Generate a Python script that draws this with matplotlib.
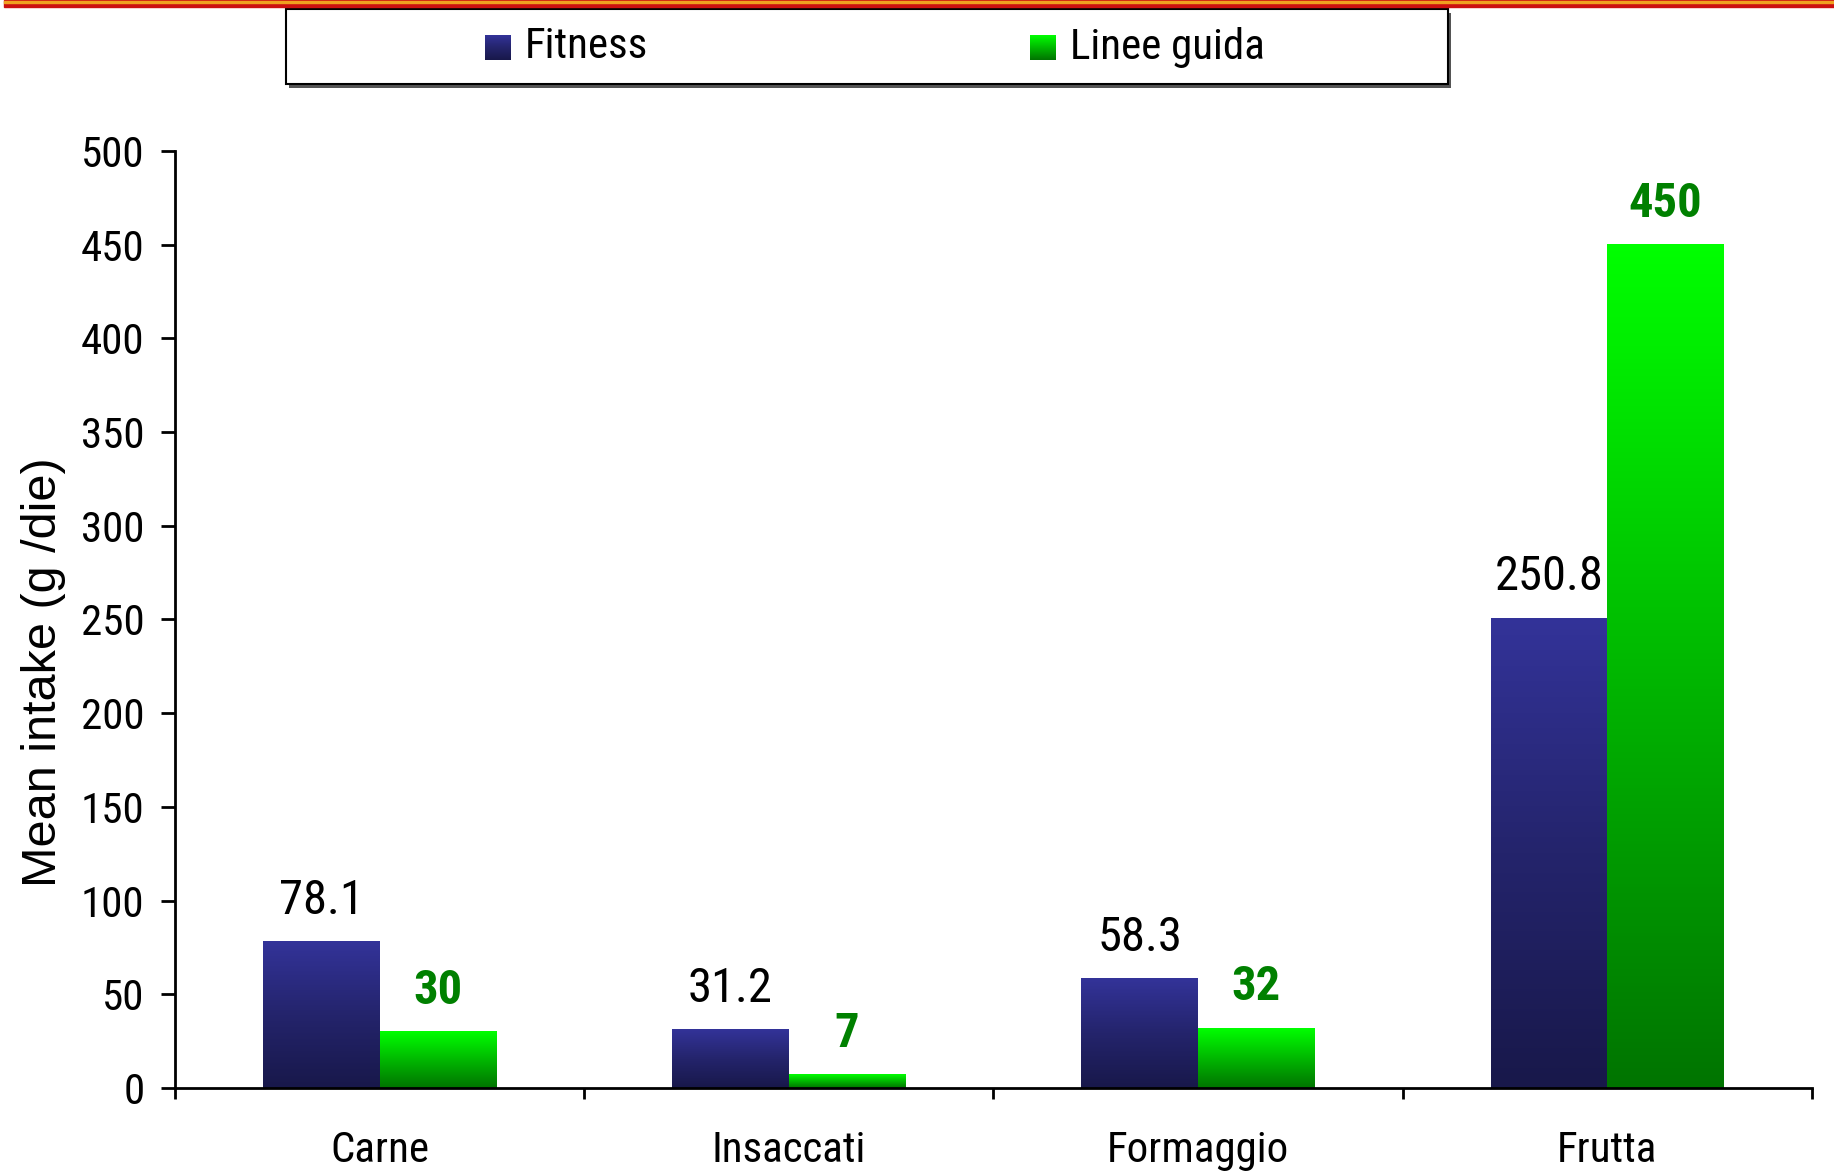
import matplotlib
matplotlib.use('Agg')
import matplotlib.pyplot as plt
import numpy as np
from matplotlib.colors import LinearSegmentedColormap
from matplotlib.patches import Rectangle

categories = ['Carne', 'Insaccati', 'Formaggio', 'Frutta']
fitness = [78.1, 31.2, 58.3, 250.8]
linee_guida = [30, 7, 32, 450]
y_ticks = [0, 50, 100, 150, 200, 250, 300, 350, 400, 450, 500]

narrow = ['Roboto Condensed', 'Archivo Narrow', 'DejaVu Sans']
regular = ['Liberation Sans', 'Arimo', 'DejaVu Sans']

# vertical gradients: dark at the bottom, bright at the top
blue_cmap = LinearSegmentedColormap.from_list('blue', ['#18184a', '#24246c', '#333399'])
green_cmap = LinearSegmentedColormap.from_list('green', ['#007400', '#00b800', '#00ff00'])
grad = np.linspace(0, 1, 256).reshape(-1, 1)

fig = plt.figure(figsize=(18.34, 11.74), dpi=100)
ax = fig.add_axes([0.0954, 0.0733, 0.8926, 0.7981])

x = np.arange(len(categories))
w = 0.285
bars_fit = ax.bar(x - w / 2, fitness, w, color='none', edgecolor='none')
bars_lg = ax.bar(x + w / 2, linee_guida, w, color='none', edgecolor='none')

def fill_gradient(bars, cmap):
    for b in bars:
        x0, y0 = b.get_xy()
        ax.imshow(grad, extent=[x0, x0 + b.get_width(), y0, y0 + b.get_height()],
                  origin='lower', aspect='auto', cmap=cmap, zorder=2)

fill_gradient(bars_fit, blue_cmap)
fill_gradient(bars_lg, green_cmap)

# value labels
for b, v in zip(bars_fit, fitness):
    ax.annotate(f'{v:g}', (b.get_x() + b.get_width() / 2, v), xytext=(0, 20),
                textcoords='offset points', ha='center', va='baseline',
                fontsize=35, family=narrow, color='black')
for b, v in zip(bars_lg, linee_guida):
    ax.annotate(f'{v:g}', (b.get_x() + b.get_width() / 2, v), xytext=(0, 20),
                textcoords='offset points', ha='center', va='baseline',
                fontsize=35, family=narrow, fontweight='bold', color='#008000')

ax.set_xlim(-0.5, len(categories) - 0.5)
ax.set_ylim(0, 500)
ax.set_yticks(y_ticks)
ax.set_yticklabels([str(t) for t in y_ticks], family=narrow, fontsize=31)
ax.set_xticks(x)
ax.set_xticklabels(categories, family=narrow, fontsize=31)
ax.set_xticks(np.arange(-0.5, len(categories)), minor=True)
ax.tick_params(axis='x', which='major', length=0, pad=30)
ax.tick_params(axis='x', which='minor', length=8, width=2, direction='out')
ax.tick_params(axis='y', length=10, width=2, direction='out', pad=12)

for side in ['top', 'right']:
    ax.spines[side].set_visible(False)
for side in ['left', 'bottom']:
    ax.spines[side].set_linewidth(2)

fig.text(44 / 1834, 1 - 672 / 1174, 'Mean intake (g /die)', rotation=90,
         ha='center', va='center', fontsize=35, family=regular)

# red band along the top edge
fig.patches.append(Rectangle((0.002, 1 - 7 / 1174), 0.998, 7 / 1174,
                             transform=fig.transFigure, color='#cc1010', zorder=5))
fig.patches.append(Rectangle((0.002, 1 - 3 / 1174), 0.998, 2 / 1174,
                             transform=fig.transFigure, color='#f0a020', zorder=6))

# legend box with a drop shadow
W, H = 1834, 1174
lx0, lx1, ly0, ly1 = 286, 1448, 9, 84
fig.patches.append(Rectangle(((lx0 + 3) / W, 1 - (ly1 + 4) / H), (lx1 - lx0) / W, (ly1 - ly0) / H,
                             transform=fig.transFigure, facecolor='#555555', edgecolor='none', zorder=3))
fig.patches.append(Rectangle((lx0 / W, 1 - ly1 / H), (lx1 - lx0) / W, (ly1 - ly0) / H,
                             transform=fig.transFigure, facecolor='white', edgecolor='black',
                             linewidth=1.5, zorder=4))

for sx, label, cmap in [(485, 'Fitness', blue_cmap), (1030, 'Linee guida', green_cmap)]:
    sw = fig.add_axes([sx / W, 1 - 60 / H, 26 / W, 25 / H], zorder=10)
    sw.imshow(grad, origin='lower', aspect='auto', cmap=cmap)
    sw.axis('off')
    fig.text((sx + 40) / W, 1 - 47 / H, label, ha='left', va='center',
             fontsize=31, family=narrow, zorder=10)

plt.savefig('out.png', dpi=100)
